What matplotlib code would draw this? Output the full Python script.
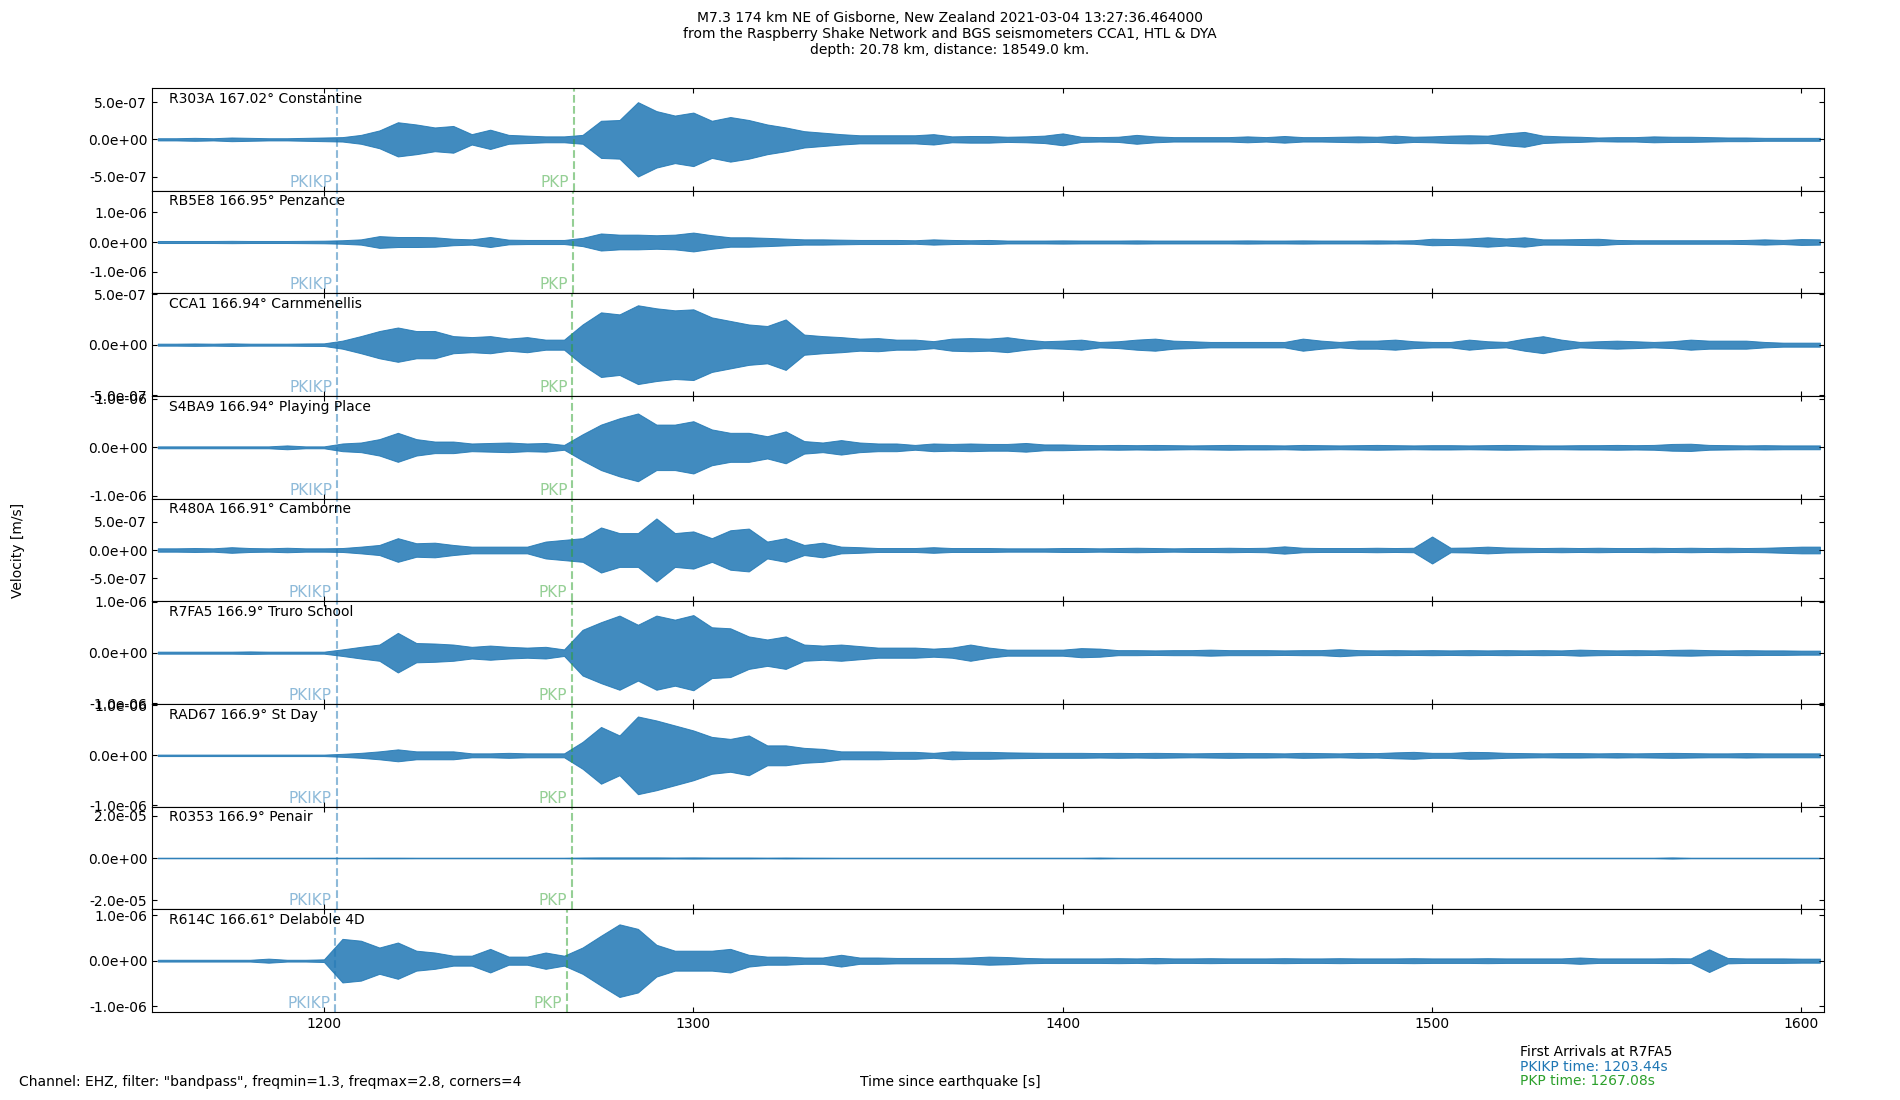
import matplotlib
matplotlib.use("Agg")
import matplotlib.pyplot as plt
import matplotlib.transforms as mtransforms
from matplotlib.ticker import FormatStrFormatter
import numpy as np

# Envelope of each trace, every 5 s (1155 s .. 1605 s),
# peak |velocity| in units of 1e-7 m/s
TIME = list(range(1155, 1606, 5))
UNIT = 1e-7

STATIONS = ["R303A", "RB5E8", "CCA1", "S4BA9", "R480A", "R7FA5", "RAD67", "R0353", "R614C"]
DISTANCES = [167.02, 166.95, 166.94, 166.94, 166.91, 166.9, 166.9, 166.9, 166.61]
PLACES = ["Constantine", "Penzance", "Carnmenellis", "Playing Place", "Camborne",
          "Truro School", "St Day", "Penair", "Delabole 4D"]

PKIKP_TIMES = [1203.65, 1203.53, 1203.51, 1203.51, 1203.46, 1203.44, 1203.44, 1203.44, 1202.95]
PKP_TIMES = [1267.65, 1267.32, 1267.27, 1267.27, 1267.13, 1267.08, 1267.08, 1267.08, 1265.70]

# y range (+/-) and tick value of each panel
Y_HALF = [6.9e-7, 1.74e-6, 5.08e-7, 1.06e-6, 9.1e-7, 1.01e-6, 1.03e-6, 2.43e-5, 1.13e-6]
Y_TICK = [5e-7, 1e-6, 5e-7, 1e-6, 5e-7, 1e-6, 1e-6, 2e-5, 1e-6]

R303A = [0.15, 0.15, 0.2, 0.15, 0.25, 0.2, 0.15, 0.15, 0.2, 0.25,
         0.3, 0.6, 1.2, 2.3, 2.0, 1.6, 1.8, 0.7, 1.3, 0.6,
         0.5, 0.4, 0.4, 0.6, 2.5, 2.6, 5.0, 3.8, 3.2, 3.6,
         2.5, 3.0, 2.6, 2.0, 1.6, 1.1, 0.9, 0.7, 0.55, 0.55,
         0.55, 0.55, 0.7, 0.4, 0.45, 0.45, 0.35, 0.4, 0.5, 0.8,
         0.35, 0.3, 0.35, 0.6, 0.4, 0.3, 0.3, 0.3, 0.3, 0.4,
         0.3, 0.45, 0.3, 0.3, 0.35, 0.4, 0.35, 0.5, 0.35, 0.4,
         0.5, 0.55, 0.5, 0.8, 1.0, 0.5, 0.4, 0.35, 0.25, 0.3,
         0.3, 0.4, 0.35, 0.35, 0.3, 0.25, 0.25, 0.2, 0.2, 0.2,
         0.2]
RB5E8 = [0.35, 0.35, 0.35, 0.35, 0.4, 0.35, 0.35, 0.35, 0.4, 0.45,
         0.6, 0.9, 2.0, 1.7, 1.7, 1.6, 1.1, 0.9, 1.7, 0.8,
         0.7, 0.7, 0.7, 1.4, 2.9, 2.5, 2.5, 2.3, 2.5, 3.2,
         2.3, 1.6, 1.6, 1.4, 1.15, 0.9, 0.9, 0.8, 0.7, 0.7,
         0.7, 0.6, 0.9, 0.7, 0.6, 0.7, 0.5, 0.5, 0.5, 0.55,
         0.5, 0.5, 0.5, 0.55, 0.5, 0.5, 0.5, 0.5, 0.5, 0.55,
         0.5, 0.5, 0.55, 0.5, 0.5, 0.5, 0.55, 0.5, 0.6, 1.1,
         1.0, 1.2, 1.6, 1.2, 1.6, 0.9, 0.9, 1.0, 1.1, 0.7,
         0.6, 0.6, 0.6, 0.6, 0.6, 0.6, 0.7, 0.9, 0.7, 1.0,
         0.9]
CCA1 = [0.1, 0.1, 0.12, 0.1, 0.13, 0.1, 0.1, 0.1, 0.12, 0.13,
        0.4, 0.85, 1.35, 1.7, 1.35, 1.35, 0.85, 0.75, 0.85, 0.6,
        0.75, 0.5, 0.5, 2.0, 3.2, 3.0, 3.9, 3.6, 3.4, 3.5,
        2.7, 2.35, 2.0, 1.85, 2.5, 1.0, 0.85, 0.75, 0.6, 0.65,
        0.5, 0.5, 0.35, 0.6, 0.65, 0.6, 0.74, 0.5, 0.34, 0.4,
        0.5, 0.27, 0.34, 0.5, 0.6, 0.4, 0.34, 0.27, 0.27, 0.27,
        0.27, 0.27, 0.6, 0.4, 0.27, 0.4, 0.4, 0.5, 0.34, 0.27,
        0.27, 0.5, 0.34, 0.27, 0.6, 0.84, 0.5, 0.27, 0.34, 0.4,
        0.34, 0.27, 0.34, 0.5, 0.4, 0.4, 0.4, 0.27, 0.2, 0.2,
        0.2]
S4BA9 = [0.2, 0.2, 0.2, 0.2, 0.2, 0.2, 0.2, 0.4, 0.2, 0.2,
         0.8, 1.0, 1.7, 3.0, 1.7, 1.2, 1.2, 0.8, 0.9, 1.0,
         0.8, 0.9, 0.5, 2.7, 4.7, 6.0, 7.0, 4.7, 4.7, 5.4,
         3.7, 3.0, 3.0, 2.3, 3.3, 1.3, 1.0, 1.5, 1.0, 0.8,
         0.8, 0.5, 0.8, 0.7, 0.8, 0.7, 0.7, 0.9, 0.6, 0.6,
         0.5, 0.45, 0.5, 0.45, 0.5, 0.45, 0.4, 0.45, 0.5, 0.45,
         0.45, 0.4, 0.5, 0.45, 0.4, 0.45, 0.5, 0.45, 0.4, 0.45,
         0.45, 0.4, 0.45, 0.5, 0.45, 0.4, 0.4, 0.45, 0.45, 0.5,
         0.45, 0.5, 0.7, 0.75, 0.5, 0.45, 0.4, 0.45, 0.4, 0.4,
         0.4]
R480A = [0.3, 0.3, 0.35, 0.3, 0.5, 0.35, 0.3, 0.4, 0.3, 0.3,
         0.35, 0.6, 0.9, 2.1, 1.2, 1.3, 0.9, 0.6, 0.6, 0.6,
         0.6, 1.5, 1.8, 2.1, 4.0, 3.0, 3.0, 5.6, 3.0, 3.3,
         2.1, 3.5, 3.8, 1.5, 2.1, 0.9, 1.3, 0.6, 0.5, 0.35,
         0.35, 0.35, 0.5, 0.35, 0.35, 0.35, 0.3, 0.3, 0.3, 0.35,
         0.35, 0.3, 0.35, 0.4, 0.35, 0.3, 0.35, 0.35, 0.4, 0.35,
         0.4, 0.65, 0.4, 0.35, 0.35, 0.35, 0.4, 0.35, 0.4, 2.4,
         0.4, 0.45, 0.6, 0.45, 0.4, 0.35, 0.4, 0.35, 0.4, 0.35,
         0.35, 0.4, 0.35, 0.4, 0.35, 0.4, 0.35, 0.4, 0.5, 0.6,
         0.6]
R7FA5 = [0.2, 0.2, 0.2, 0.2, 0.2, 0.25, 0.2, 0.2, 0.2, 0.2,
         0.65, 1.15, 1.6, 3.9, 1.9, 1.8, 1.6, 1.15, 1.4, 1.15,
         1.0, 1.15, 0.65, 4.5, 6.0, 7.3, 5.5, 7.3, 6.5, 7.4,
         5.0, 4.8, 3.2, 2.6, 3.2, 1.6, 1.4, 1.6, 1.3, 1.0,
         1.0, 1.0, 0.8, 1.0, 1.6, 1.0, 0.6, 0.6, 0.6, 0.6,
         0.9, 0.8, 0.5, 0.5, 0.45, 0.5, 0.5, 0.6, 0.5, 0.5,
         0.5, 0.45, 0.5, 0.5, 0.7, 0.5, 0.45, 0.5, 0.45, 0.5,
         0.45, 0.5, 0.45, 0.5, 0.45, 0.5, 0.45, 0.6, 0.5, 0.45,
         0.5, 0.45, 0.55, 0.6, 0.5, 0.45, 0.5, 0.45, 0.45, 0.4,
         0.4]
RAD67 = [0.15, 0.15, 0.15, 0.15, 0.15, 0.15, 0.15, 0.15, 0.15, 0.15,
         0.3, 0.5, 0.8, 1.2, 0.8, 0.8, 0.8, 0.4, 0.4, 0.5,
         0.4, 0.4, 0.4, 2.7, 5.7, 4.0, 7.8, 7.0, 6.0, 5.0,
         3.7, 3.3, 4.0, 2.0, 2.0, 1.5, 1.3, 0.8, 0.8, 0.8,
         0.7, 0.7, 0.5, 0.8, 0.7, 0.7, 0.6, 0.55, 0.5, 0.5,
         0.5, 0.45, 0.5, 0.45, 0.5, 0.45, 0.4, 0.45, 0.5, 0.45,
         0.45, 0.4, 0.5, 0.45, 0.4, 0.5, 0.45, 0.6, 0.7, 0.5,
         0.5, 0.7, 0.65, 0.5, 0.45, 0.4, 0.45, 0.45, 0.4, 0.45,
         0.4, 0.45, 0.5, 0.45, 0.4, 0.4, 0.45, 0.4, 0.4, 0.4,
         0.4]
R0353 = [1.5, 1.5, 1.5, 1.5, 1.5, 1.5, 1.5, 1.5, 1.5, 1.5,
         1.5, 1.5, 1.8, 1.8, 1.5, 1.5, 1.5, 1.5, 1.5, 1.5,
         1.5, 1.5, 1.5, 2.5, 3.0, 3.0, 3.0, 3.0, 2.5, 3.0,
         2.5, 2.5, 2.5, 2.0, 2.5, 2.0, 1.8, 1.5, 1.5, 1.5,
         1.5, 1.5, 1.5, 1.5, 1.5, 1.5, 1.5, 1.5, 1.5, 1.5,
         1.5, 2.5, 1.5, 1.5, 1.5, 1.5, 1.5, 1.5, 1.5, 1.5,
         1.5, 1.5, 1.5, 1.5, 1.5, 1.5, 1.5, 1.5, 1.5, 1.5,
         1.5, 1.5, 1.5, 1.5, 1.5, 1.5, 1.5, 1.5, 1.5, 1.5,
         1.5, 1.5, 3.0, 1.5, 1.5, 1.5, 1.5, 1.5, 1.5, 1.5,
         1.5]
R614C = [0.2, 0.2, 0.2, 0.2, 0.2, 0.2, 0.45, 0.2, 0.2, 0.3,
         4.8, 4.4, 2.9, 4.0, 2.2, 1.8, 1.1, 1.1, 2.6, 0.9,
         0.9, 1.8, 1.1, 2.9, 5.5, 8.0, 7.0, 3.5, 2.2, 2.2,
         2.2, 2.6, 1.3, 0.9, 0.9, 0.7, 0.7, 1.3, 0.7, 0.7,
         0.6, 0.6, 0.6, 0.6, 0.7, 0.9, 0.8, 0.6, 0.5, 0.5,
         0.5, 0.5, 0.55, 0.5, 0.6, 0.5, 0.5, 0.55, 0.5, 0.5,
         0.5, 0.55, 0.5, 0.5, 0.55, 0.5, 0.5, 0.5, 0.55, 0.5,
         0.5, 0.5, 0.55, 0.5, 0.5, 0.5, 0.5, 0.7, 0.5, 0.5,
         0.5, 0.5, 0.55, 0.5, 2.5, 0.6, 0.5, 0.5, 0.5, 0.45,
         0.45]

TRACES = [R303A, RB5E8, CCA1, S4BA9, R480A, R7FA5, RAD67, R0353, R614C]

X_LIM = (1153.44, 1606.1)

title = ("M7.3 174 km NE of Gisborne, New Zealand 2021-03-04 13:27:36.464000\n"
         "from the Raspberry Shake Network and BGS seismometers CCA1, HTL & DYA\n"
         "depth: 20.78 km, distance: 18549.0 km.")

fig = plt.figure(figsize=(19, 11), dpi=100)
axes = fig.subplots(len(STATIONS), 1, sharex=True)
fig.subplots_adjust(left=0.08, right=0.96, top=0.92, bottom=0.08, hspace=0)

for i, ax in enumerate(axes):
    env = np.array(TRACES[i]) * UNIT
    ax.fill_between(TIME, -env, env, color="C0", alpha=0.85, linewidth=0.7)

    ax.axvline(PKIKP_TIMES[i], color="C0", alpha=0.5, linestyle="--", linewidth=1.5)
    ax.axvline(PKP_TIMES[i], color="C2", alpha=0.5, linestyle="--", linewidth=1.5)
    trans = mtransforms.blended_transform_factory(ax.transData, ax.transAxes)
    ax.text(PKIKP_TIMES[i] - 1.3, 0.04, "PKIKP", color="C0", alpha=0.5, fontsize=11,
            ha="right", va="baseline", transform=trans)
    ax.text(PKP_TIMES[i] - 1.3, 0.04, "PKP", color="C2", alpha=0.5, fontsize=11,
            ha="right", va="baseline", transform=trans)

    ax.text(0.01, 0.965, f"{STATIONS[i]} {DISTANCES[i]}° {PLACES[i]}", fontsize=10,
            ha="left", va="top", transform=ax.transAxes)

    ax.set_xlim(*X_LIM)
    ax.set_ylim(-Y_HALF[i], Y_HALF[i])
    ax.set_yticks([-Y_TICK[i], 0, Y_TICK[i]])
    ax.yaxis.set_major_formatter(FormatStrFormatter("%.1e"))
    ax.tick_params(direction="in", top=True, right=True)

axes[-1].set_xticks([1200, 1300, 1400, 1500, 1600])

fig.suptitle(title, fontsize=10, y=0.99)
fig.text(0.006, 0.5, "Velocity [m/s]", rotation=90, ha="left", va="center", fontsize=10)
fig.text(0.01, 0.0165, 'Channel: EHZ, filter: "bandpass", freqmin=1.3, freqmax=2.8, corners=4',
         ha="left", va="center", fontsize=10)
fig.text(0.5, 0.0165, "Time since earthquake [s]", ha="center", va="center", fontsize=10)
fig.text(0.8, 0.0436, f"First Arrivals at {STATIONS[5]}", ha="left", va="center", fontsize=10)
fig.text(0.8, 0.0303, f"PKIKP time: {PKIKP_TIMES[5]:.2f}s", color="C0", ha="left", va="center", fontsize=10)
fig.text(0.8, 0.0173, f"PKP time: {PKP_TIMES[5]:.2f}s", color="C2", ha="left", va="center", fontsize=10)

plt.savefig("out.png", dpi=100)
